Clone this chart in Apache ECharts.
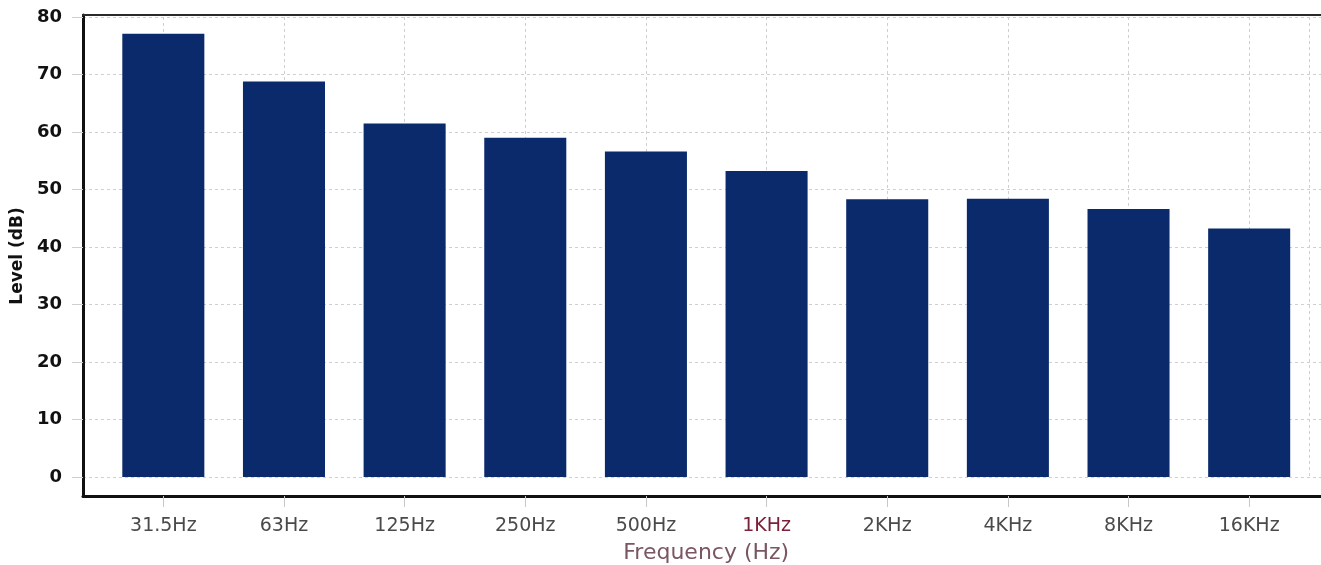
<!DOCTYPE html>
<html>
<head>
<meta charset="utf-8">
<script src="https://cdn.jsdelivr.net/npm/echarts@6/dist/echarts.min.js"></script>
<style>
html,body{margin:0;padding:0;background:#fff;}
#chart{width:1321px;height:565px;}
</style>
</head>
<body>
<div id="chart"></div>
<script>
const categories = ['31.5Hz','63Hz','125Hz','250Hz','500Hz','1KHz','2KHz','4KHz','8KHz','16KHz'];
const levels = [77.1, 68.8, 61.5, 59.0, 56.6, 53.2, 48.3, 48.4, 46.6, 43.2];
const yTicks = [0, 10, 20, 30, 40, 50, 60, 70, 80];
const xTitle = 'Frequency (Hz)';
const yTitle = 'Level (dB)';

const halfSlots = categories.flatMap(c => [c + '-a', c + '-b']);

const chart = echarts.init(document.getElementById('chart'), null, {renderer: 'canvas'});
const gridLine = {color: '#cfcfcf', width: 1, type: [3, 3]};

chart.setOption({
  animation: false,
  backgroundColor: '#ffffff',
  grid: [
    {left: 103, right: 11.5, top: 17, bottom: 88, containLabel: false, outerBoundsMode: 'none'},
    {left: 83, right: -10, top: 15, bottom: 69, containLabel: false, outerBoundsMode: 'none'}
  ],
  xAxis: [
    {
      type: 'category', gridIndex: 0, data: categories, offset: 19,
      axisLine: {show: false, onZero: false},
      axisTick: {show: true, alignWithLabel: true, length: 11, lineStyle: {color: '#c8c8c8'}},
      axisLabel: {
        margin: 21, fontFamily: 'DejaVu Sans', fontSize: 19,
        color: v => v === '1KHz' ? '#7a2038' : '#4a4a4a'
      },
      splitLine: {show: false},
      name: xTitle, nameLocation: 'middle', nameGap: 46,
      nameTextStyle: {fontFamily: 'DejaVu Sans', fontSize: 22, color: '#7a5662'}
    },
    {
      type: 'category', gridIndex: 0, data: halfSlots, show: true,
      axisLine: {show: false, onZero: false}, axisTick: {show: false}, axisLabel: {show: false},
      splitLine: {show: true, interval: (i) => i % 2 === 1, lineStyle: gridLine}
    },
    {
      type: 'category', gridIndex: 1, data: [''], position: 'bottom',
      axisLine: {show: true, onZero: false, lineStyle: {color: '#111', width: 3}},
      axisTick: {show: false}, axisLabel: {show: false}, splitLine: {show: false}
    },
    {
      type: 'category', gridIndex: 1, data: [''], position: 'top',
      axisLine: {show: true, onZero: false, lineStyle: {color: '#2a2a2a', width: 2}},
      axisTick: {show: false}, axisLabel: {show: false}, splitLine: {show: false}
    }
  ],
  yAxis: [
    {
      type: 'value', gridIndex: 0, min: 0, max: 80, interval: 10, offset: 20,
      axisLine: {show: false, onZero: false},
      axisTick: {show: true, length: 11, lineStyle: {color: '#cfcfcf'}},
      axisLabel: {
        margin: 21, fontFamily: 'DejaVu Sans', fontWeight: 'bold', fontSize: 18, color: '#111',
        formatter: v => yTicks.includes(v) ? String(v) : ''
      },
      splitLine: {show: false},
      name: yTitle, nameLocation: 'middle', nameGap: 55, nameRotate: 90,
      nameTextStyle: {fontFamily: 'DejaVu Sans', fontWeight: 'bold', fontSize: 17, color: '#111', padding: [0, 18, 0, 0]}
    },
    {
      type: 'value', gridIndex: 1, min: -3.3, max: 80.35, splitNumber: 8,
      axisLine: {show: true, onZero: false, lineStyle: {color: '#111', width: 3}},
      axisTick: {show: false}, axisLabel: {show: false},
      splitLine: {show: true, showMinLine: false, showMaxLine: false, lineStyle: gridLine}
    }
  ],
  series: [{
    type: 'bar', xAxisIndex: 0, yAxisIndex: 0, data: levels,
    barCategoryGap: '32%',
    itemStyle: {color: '#0a2a6b'},
    z: 3
  }]
});
</script>
</body>
</html>
